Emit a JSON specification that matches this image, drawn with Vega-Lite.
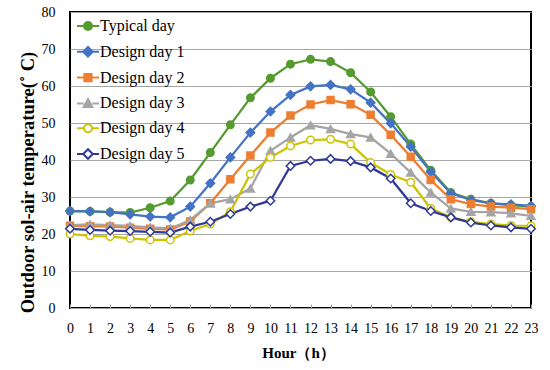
{
  "$schema": "https://vega.github.io/schema/vega-lite/v6.json",
  "width": 461,
  "height": 296,
  "autosize": {"type": "none"},
  "padding": {"left": 70, "top": 12, "right": 19, "bottom": 62},
  "background": "white",
  "config": {
    "view": {"stroke": "black", "strokeWidth": 2},
    "font": "Liberation Serif",
    "axis": {"labelFont": "Liberation Serif", "titleFont": "Liberation Serif", "labelColor": "black", "titleColor": "black", "labelFontSize": 14},
    "legend": {"labelFont": "Liberation Serif", "labelFontSize": 16, "labelColor": "black"}
  },
  "datasets": {
    "temps": [
      {"hour":0,"series":"Typical day","temp":26.2},{"hour":1,"series":"Typical day","temp":26.1},{"hour":2,"series":"Typical day","temp":25.9},{"hour":3,"series":"Typical day","temp":25.8},{"hour":4,"series":"Typical day","temp":27.1},{"hour":5,"series":"Typical day","temp":28.9},{"hour":6,"series":"Typical day","temp":34.6},{"hour":7,"series":"Typical day","temp":42.0},{"hour":8,"series":"Typical day","temp":49.5},{"hour":9,"series":"Typical day","temp":56.8},{"hour":10,"series":"Typical day","temp":62.1},{"hour":11,"series":"Typical day","temp":65.9},{"hour":12,"series":"Typical day","temp":67.2},{"hour":13,"series":"Typical day","temp":66.6},{"hour":14,"series":"Typical day","temp":63.6},{"hour":15,"series":"Typical day","temp":58.4},{"hour":16,"series":"Typical day","temp":51.7},{"hour":17,"series":"Typical day","temp":44.3},{"hour":18,"series":"Typical day","temp":37.2},{"hour":19,"series":"Typical day","temp":31.2},{"hour":20,"series":"Typical day","temp":29.4},{"hour":21,"series":"Typical day","temp":28.3},{"hour":22,"series":"Typical day","temp":27.8},{"hour":23,"series":"Typical day","temp":27.4},
      {"hour":0,"series":"Design day 1","temp":26.2},{"hour":1,"series":"Design day 1","temp":26.1},{"hour":2,"series":"Design day 1","temp":25.9},{"hour":3,"series":"Design day 1","temp":25.3},{"hour":4,"series":"Design day 1","temp":24.7},{"hour":5,"series":"Design day 1","temp":24.5},{"hour":6,"series":"Design day 1","temp":27.4},{"hour":7,"series":"Design day 1","temp":33.7},{"hour":8,"series":"Design day 1","temp":40.7},{"hour":9,"series":"Design day 1","temp":47.4},{"hour":10,"series":"Design day 1","temp":53.1},{"hour":11,"series":"Design day 1","temp":57.6},{"hour":12,"series":"Design day 1","temp":59.9},{"hour":13,"series":"Design day 1","temp":60.3},{"hour":14,"series":"Design day 1","temp":59.1},{"hour":15,"series":"Design day 1","temp":55.5},{"hour":16,"series":"Design day 1","temp":49.9},{"hour":17,"series":"Design day 1","temp":43.6},{"hour":18,"series":"Design day 1","temp":36.8},{"hour":19,"series":"Design day 1","temp":31.0},{"hour":20,"series":"Design day 1","temp":29.2},{"hour":21,"series":"Design day 1","temp":28.3},{"hour":22,"series":"Design day 1","temp":28.0},{"hour":23,"series":"Design day 1","temp":27.6},
      {"hour":0,"series":"Design day 2","temp":22.2},{"hour":1,"series":"Design day 2","temp":22.1},{"hour":2,"series":"Design day 2","temp":22.0},{"hour":3,"series":"Design day 2","temp":21.7},{"hour":4,"series":"Design day 2","temp":21.4},{"hour":5,"series":"Design day 2","temp":21.2},{"hour":6,"series":"Design day 2","temp":23.4},{"hour":7,"series":"Design day 2","temp":28.3},{"hour":8,"series":"Design day 2","temp":34.8},{"hour":9,"series":"Design day 2","temp":41.2},{"hour":10,"series":"Design day 2","temp":47.4},{"hour":11,"series":"Design day 2","temp":52.0},{"hour":12,"series":"Design day 2","temp":55.0},{"hour":13,"series":"Design day 2","temp":56.2},{"hour":14,"series":"Design day 2","temp":55.1},{"hour":15,"series":"Design day 2","temp":52.2},{"hour":16,"series":"Design day 2","temp":46.8},{"hour":17,"series":"Design day 2","temp":40.9},{"hour":18,"series":"Design day 2","temp":34.6},{"hour":19,"series":"Design day 2","temp":29.4},{"hour":20,"series":"Design day 2","temp":28.1},{"hour":21,"series":"Design day 2","temp":27.4},{"hour":22,"series":"Design day 2","temp":27.1},{"hour":23,"series":"Design day 2","temp":26.7},
      {"hour":0,"series":"Design day 3","temp":22.4},{"hour":1,"series":"Design day 3","temp":22.6},{"hour":2,"series":"Design day 3","temp":22.4},{"hour":3,"series":"Design day 3","temp":22.2},{"hour":4,"series":"Design day 3","temp":21.8},{"hour":5,"series":"Design day 3","temp":21.5},{"hour":6,"series":"Design day 3","temp":23.8},{"hour":7,"series":"Design day 3","temp":28.3},{"hour":8,"series":"Design day 3","temp":29.4},{"hour":9,"series":"Design day 3","temp":32.3},{"hour":10,"series":"Design day 3","temp":42.5},{"hour":11,"series":"Design day 3","temp":46.1},{"hour":12,"series":"Design day 3","temp":49.4},{"hour":13,"series":"Design day 3","temp":48.4},{"hour":14,"series":"Design day 3","temp":47.0},{"hour":15,"series":"Design day 3","temp":46.1},{"hour":16,"series":"Design day 3","temp":41.7},{"hour":17,"series":"Design day 3","temp":36.6},{"hour":18,"series":"Design day 3","temp":31.2},{"hour":19,"series":"Design day 3","temp":26.9},{"hour":20,"series":"Design day 3","temp":26.0},{"hour":21,"series":"Design day 3","temp":25.9},{"hour":22,"series":"Design day 3","temp":25.6},{"hour":23,"series":"Design day 3","temp":24.9},
      {"hour":0,"series":"Design day 4","temp":20.0},{"hour":1,"series":"Design day 4","temp":19.5},{"hour":2,"series":"Design day 4","temp":19.3},{"hour":3,"series":"Design day 4","temp":18.8},{"hour":4,"series":"Design day 4","temp":18.4},{"hour":5,"series":"Design day 4","temp":18.4},{"hour":6,"series":"Design day 4","temp":20.8},{"hour":7,"series":"Design day 4","temp":22.7},{"hour":8,"series":"Design day 4","temp":26.0},{"hour":9,"series":"Design day 4","temp":36.2},{"hour":10,"series":"Design day 4","temp":40.7},{"hour":11,"series":"Design day 4","temp":43.8},{"hour":12,"series":"Design day 4","temp":45.4},{"hour":13,"series":"Design day 4","temp":45.6},{"hour":14,"series":"Design day 4","temp":44.3},{"hour":15,"series":"Design day 4","temp":39.3},{"hour":16,"series":"Design day 4","temp":36.1},{"hour":17,"series":"Design day 4","temp":34.0},{"hour":18,"series":"Design day 4","temp":26.9},{"hour":19,"series":"Design day 4","temp":24.5},{"hour":20,"series":"Design day 4","temp":23.3},{"hour":21,"series":"Design day 4","temp":22.7},{"hour":22,"series":"Design day 4","temp":22.3},{"hour":23,"series":"Design day 4","temp":22.2},
      {"hour":0,"series":"Design day 5","temp":21.4},{"hour":1,"series":"Design day 5","temp":21.1},{"hour":2,"series":"Design day 5","temp":20.9},{"hour":3,"series":"Design day 5","temp":20.8},{"hour":4,"series":"Design day 5","temp":20.6},{"hour":5,"series":"Design day 5","temp":20.4},{"hour":6,"series":"Design day 5","temp":22.0},{"hour":7,"series":"Design day 5","temp":23.3},{"hour":8,"series":"Design day 5","temp":25.4},{"hour":9,"series":"Design day 5","temp":27.4},{"hour":10,"series":"Design day 5","temp":29.0},{"hour":11,"series":"Design day 5","temp":38.4},{"hour":12,"series":"Design day 5","temp":39.8},{"hour":13,"series":"Design day 5","temp":40.3},{"hour":14,"series":"Design day 5","temp":39.7},{"hour":15,"series":"Design day 5","temp":38.0},{"hour":16,"series":"Design day 5","temp":35.0},{"hour":17,"series":"Design day 5","temp":28.3},{"hour":18,"series":"Design day 5","temp":26.2},{"hour":19,"series":"Design day 5","temp":24.5},{"hour":20,"series":"Design day 5","temp":23.1},{"hour":21,"series":"Design day 5","temp":22.3},{"hour":22,"series":"Design day 5","temp":21.8},{"hour":23,"series":"Design day 5","temp":21.4}
    ]
  },
  "data": {"name": "temps"},
  "encoding": {
    "x": {
      "field": "hour", "type": "quantitative",
      "scale": {"domain": [0, 23], "nice": false, "zero": false},
      "axis": {
        "values": [0,1,2,3,4,5,6,7,8,9,10,11,12,13,14,15,16,17,18,19,20,21,22,23],
        "grid": false, "domain": false, "labelAngle": 0, "labelFlush": false,
        "ticks": true, "tickSize": -4, "tickColor": "#a0a0a0", "labelPadding": 17,
        "title": "Hour（h）", "titleFontSize": 15, "titleFontWeight": "bold",
        "titleX": 228, "titleY": 44, "titleBaseline": "middle", "titleAnchor": null
      }
    },
    "y": {
      "field": "temp", "type": "quantitative",
      "scale": {"domain": [0, 80], "nice": false},
      "axis": {
        "values": [0,10,20,30,40,50,60,70,80],
        "grid": true, "gridColor": "#a6a6a6", "gridWidth": 1,
        "domain": false, "ticks": false, "labelPadding": 15,
        "title": "Outdoor sol-air temperature(˚ C)", "titleFontSize": 18.5, "titleFontWeight": "bold",
        "titleX": -43, "titleY": 170, "titleAngle": -90, "titleAlign": "center", "titleBaseline": "middle"
      }
    }
  },
  "layer": [
    {
      "mark": {"type": "line", "strokeWidth": 2.25},
      "encoding": {
        "stroke": {
          "field": "series", "type": "nominal",
          "scale": {
            "domain": ["Typical day","Design day 1","Design day 2","Design day 3","Design day 4","Design day 5"],
            "range": ["#559B30","#4472C4","#ED7D31","#A5A5A5","#CCC400","#2E3A96"]
          },
          "legend": {
            "orient": "none", "legendX": 10, "legendY": 6, "title": null, "padding": 0,
            "symbolSize": 64, "symbolStrokeWidth": 2, "symbolOffset": 0, "labelOffset": 4,
            "labelFont": "Liberation Serif", "labelFontSize": 16, "labelColor": "black",
            "rowPadding": 8.8, "labelLimit": 300,
            "encode": {
              "symbols": {
                "update": {
                  "shape": {"signal": "datum.value === 'Typical day' ? 'M-2.75,0L-1,0M1,0L2.75,0M-1,0A1,1 0 1,0 1,0A1,1 0 1,0 -1,0Z' : datum.value === 'Design day 1' ? 'M-2.75,0L-1.2,0M1.2,0L2.75,0M0,-1.2L1.2,0L0,1.2L-1.2,0Z' : datum.value === 'Design day 2' ? 'M-2.75,0L-0.9,0M0.9,0L2.75,0M-0.9,-0.9L0.9,-0.9L0.9,0.9L-0.9,0.9Z' : datum.value === 'Design day 3' ? 'M-2.75,0L-1.1,0M1.1,0L2.75,0M0,-1.1L1.1,0.9L-1.1,0.9Z' : datum.value === 'Design day 4' ? 'M-2.75,0L-1,0M1,0L2.75,0M-1,0A1,1 0 1,0 1,0A1,1 0 1,0 -1,0Z' : 'M-2.75,0L-1.2,0M1.2,0L2.75,0M0,-1.2L1.2,0L0,1.2L-1.2,0Z'"},
                  "fill": {"signal": "datum.value === 'Design day 4' || datum.value === 'Design day 5' ? 'white' : scale('stroke', datum.value)"},
                  "strokeWidth": {"value": 2},
                  "opacity": {"value": 1}
                }
              }
            }
          }
        }
      }
    },
    {
      "mark": {"type": "point", "filled": false, "strokeWidth": 1.5, "opacity": 1},
      "encoding": {
        "stroke": {
          "condition": [
            {"test": "datum.series === 'Typical day'", "value": "#559B30"},
            {"test": "datum.series === 'Design day 1'", "value": "#4472C4"},
            {"test": "datum.series === 'Design day 2'", "value": "#ED7D31"},
            {"test": "datum.series === 'Design day 3'", "value": "#A5A5A5"},
            {"test": "datum.series === 'Design day 4'", "value": "#CCC400"}
          ],
          "value": "#2E3A96"
        },
        "fill": {
          "condition": [
            {"test": "datum.series === 'Typical day'", "value": "#559B30"},
            {"test": "datum.series === 'Design day 1'", "value": "#4472C4"},
            {"test": "datum.series === 'Design day 2'", "value": "#ED7D31"},
            {"test": "datum.series === 'Design day 3'", "value": "#A5A5A5"}
          ],
          "value": "#FFFFFF"
        },
        "shape": {
          "condition": [
            {"test": "datum.series === 'Typical day' || datum.series === 'Design day 4'", "value": "circle"},
            {"test": "datum.series === 'Design day 2'", "value": "square"},
            {"test": "datum.series === 'Design day 3'", "value": "triangle-up"}
          ],
          "value": "diamond"
        },
        "size": {
          "condition": [
            {"test": "datum.series === 'Typical day' || datum.series === 'Design day 4'", "value": 56},
            {"test": "datum.series === 'Design day 2'", "value": 49},
            {"test": "datum.series === 'Design day 3'", "value": 64}
          ],
          "value": 72
        }
      }
    }
  ]
}
